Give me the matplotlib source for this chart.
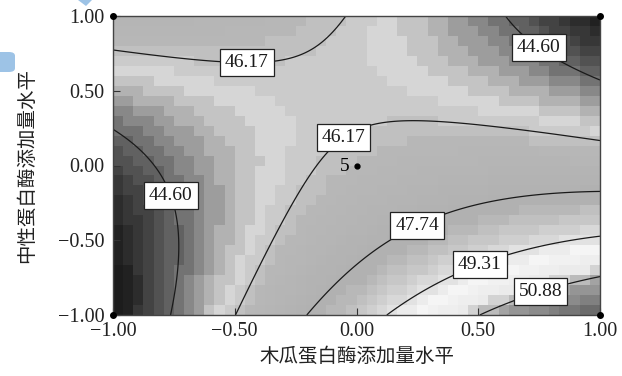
import numpy as np
import matplotlib
matplotlib.use("Agg")
import matplotlib.pyplot as plt
from matplotlib.colors import LinearSegmentedColormap, Normalize
from matplotlib.patches import Polygon, FancyBboxPatch

# contour levels shown in the plot
levels = [44.60, 46.17, 47.74, 49.31, 50.88]

# points (coded levels): x, y, response
c_x = [-1.00, -0.55, -0.32, -0.15, -0.06,
       -0.50, -0.30, -0.14, 0.03, 0.10, 0.45, 1.00,
       -1.00, -0.79, -0.74, -0.73, -0.77,
       0.60, 0.67, 0.85, 1.00,
       -0.20, 0.166, 0.355, 0.67, 1.00,
       0.13, 0.42, 0.62, 1.00,
       0.515, 0.64, 0.865, 1.00]
c_y = [0.78, 0.69, 0.69, 0.79, 0.96,
       -1.00, -0.45, 0.07, 0.27, 0.30, 0.27, 0.17,
       0.24, -0.11, -0.32, -0.545, -1.00,
       1.00, 0.89, 0.71, 0.56,
       -1.00, -0.46, -0.31, -0.23, -0.18,
       -1.00, -0.73, -0.585, -0.465,
       -1.00, -0.90, -0.785, -0.75]
c_z = [46.17] * 5 + [46.17] * 7 + [44.60] * 5 + [44.60] * 4 + \
      [47.74] * 5 + [49.31] * 4 + [50.88] * 4

# where the labels sit
label_pos = [(-0.45, 0.69), (-0.05, 0.18), (-0.76, -0.20), (0.75, 0.79),
             (0.24, -0.37), (0.50, -0.63), (0.75, -0.82)]

# design points
design_x = [-1, 1, -1, 1]
design_y = [1, 1, -1, -1]
center_x, center_y, center_n = 0.0, 0.0, "5"

x_ticks = [-1.0, -0.5, 0.0, 0.5, 1.0]
x_tick_labels = ["\u22121.00", "\u22120.50", "0.00", "0.50", "1.00"]
y_ticks = [-1.0, -0.5, 0.0, 0.5, 1.0]
y_tick_labels = ["\u22121.00", "\u22120.50", "0.00", "0.50", "1.00"]
x_label = "木瓜蛋白酶添加量水平"
y_label = "中性蛋白酶添加量水平"

# quadratic response surface fitted to the read contour points
cx, cy = np.array(c_x), np.array(c_y)
A = np.column_stack([np.ones_like(cx), cx, cy, cx * cy, cx ** 2, cy ** 2])
coef, *_ = np.linalg.lstsq(A, np.array(c_z), rcond=None)

def surface(x, y):
    return coef[0] + coef[1] * x + coef[2] * y + coef[3] * x * y + coef[4] * x ** 2 + coef[5] * y ** 2

plt.rcParams['font.family'] = ['Liberation Serif', 'Noto Sans CJK SC']

fig = plt.figure(figsize=(6.22, 3.76), dpi=100)
ax = fig.add_axes([113 / 622, 1 - 315 / 376, 487 / 622, 299 / 376])

# blocky grey fill like the original software
xe = np.linspace(-1, 1, 49)
ye = np.linspace(-1, 1, 31)
xc = (xe[:-1] + xe[1:]) / 2
yc = (ye[:-1] + ye[1:]) / 2
XC, YC = np.meshgrid(xc, yc)
ZC = surface(XC, YC)

xf = np.linspace(-1, 1, 300)
yf = np.linspace(-1, 1, 300)
XF, YF = np.meshgrid(xf, yf)
ZF = surface(XF, YF)

# grey ramp (response value -> grey), a rainbow palette printed in greyscale
zlo, zhi = 42.0, 52.5
ramp = [(42.0, 0.04), (43.3, 0.12), (44.0, 0.26), (44.6, 0.42), (45.3, 0.68),
        (45.8, 0.84), (46.4, 0.72), (48.0, 0.69), (49.0, 0.82), (49.8, 0.96),
        (50.5, 0.92), (51.2, 0.62), (52.5, 0.38)]
cmap = LinearSegmentedColormap.from_list(
    "de_grey", [((v - zlo) / (zhi - zlo), (g, g, g)) for v, g in ramp], N=48)
norm = Normalize(vmin=zlo, vmax=zhi, clip=True)
ax.pcolormesh(xe, ye, ZC, cmap=cmap, norm=norm, shading='flat')

cs = ax.contour(XF, YF, ZF, levels=levels, colors='#1a1a1a', linewidths=0.9)
labels = ax.clabel(cs, fmt='%.2f', manual=label_pos, inline=False, fontsize=14)
for t in labels:
    t.set_rotation(0)
    t.set_zorder(5)
    t.set_bbox(dict(boxstyle='square,pad=0.25', fc='white', ec='#222222', lw=0.9))

ax.plot(design_x, design_y, 'o', color='black', ms=4, clip_on=False, zorder=6)
ax.plot(center_x, center_y, 'o', color='black', ms=3.5, zorder=6)
ax.text(center_x - 0.03, center_y - 0.01, center_n, ha='right', va='center', fontsize=14, zorder=6)

ax.set_xlim(-1, 1)
ax.set_ylim(-1, 1)
ax.set_xticks(x_ticks)
ax.set_xticklabels(x_tick_labels)
ax.set_yticks(y_ticks)
ax.set_yticklabels(y_tick_labels)
ax.tick_params(direction='in', length=5, width=0.8, colors='#333333', labelsize=14.5,
               labelcolor='#222222')
ax.tick_params(axis='x', pad=5)
ax.tick_params(axis='y', pad=6)
for s in ax.spines.values():
    s.set_color('#444444')
    s.set_linewidth(1.0)

ax.set_xlabel(x_label, fontsize=14, color='#222222')
ax.set_ylabel(y_label, fontsize=14, color='#222222')
ax.xaxis.set_label_coords(0.5, -0.11)
ax.yaxis.set_label_coords(-0.158, 0.5)

# light blue bits of the slide around the figure
def px(x, y):
    return (x / 622, 1 - y / 376)

fig.patches.append(Polygon([px(78, 0), px(92, 0), px(86, 6)], closed=True,
                           transform=fig.transFigure, fc='#9dc3e6', ec='none'))
fig.patches.append(FancyBboxPatch(px(-10, 72), 25 / 622, 20 / 376,
                                  boxstyle='round,pad=0,rounding_size=0.01',
                                  transform=fig.transFigure, fc='#9dc3e6', ec='none'))

fig.savefig("out.png", dpi=100)
